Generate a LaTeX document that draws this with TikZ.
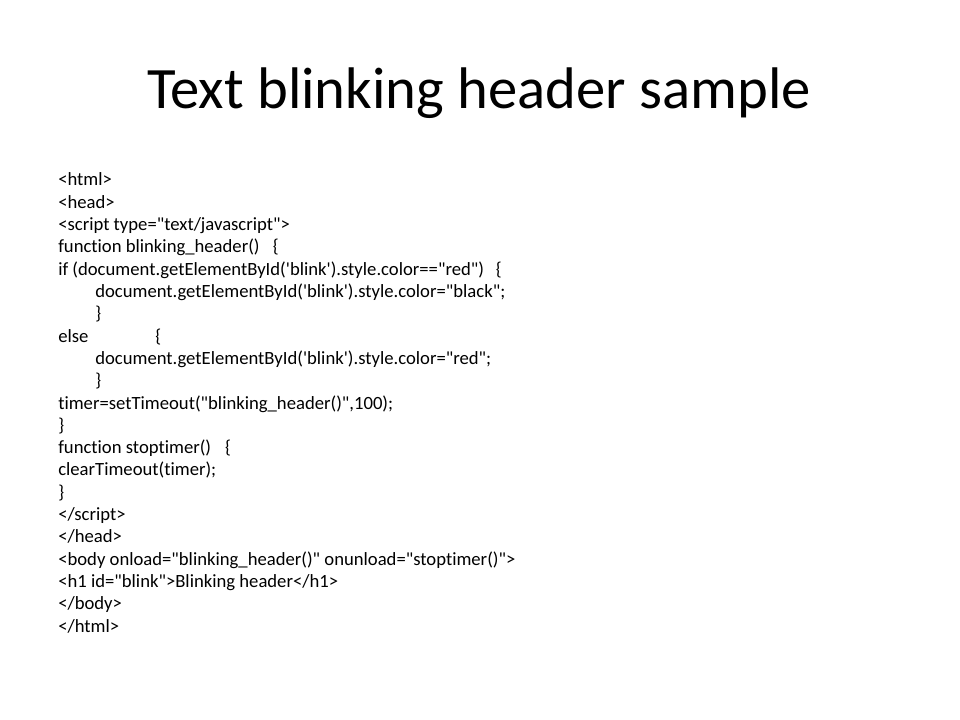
\documentclass[tikz,border=0pt]{standalone}
\usepackage{fontspec}
\newfontfamily\slidefont{Carlito}
\newfontfamily\codefont{Carlito}[Ligatures=NoCommon]
\tikzset{
  codeline/.style={anchor=base west, inner sep=0pt, font=\codefont\fontsize{14}{16}\selectfont},
  slidetitle/.style={anchor=base, inner sep=0pt, font=\slidefont\fontsize{44}{50}\selectfont}
}
\begin{document}
\begin{tikzpicture}[x=0.75pt, y=-0.75pt]
\useasboundingbox (0,0) rectangle (960,720);
\node[slidetitle] (title) at (479,109) {Text blinking header sample};
\node[codeline] (html) at (58,186) {<html>};
\node[codeline] (head) at (58,208.3) {<head>};
\node[codeline] (script) at (58,230.6) {<script type="text/javascript">};
\node[codeline] (fblink) at (58,252.9) {function blinking\_header()\hspace{10pt}\{};
\node[codeline] (iftest) at (58,275.2) {if (document.getElementById('blink').style.color=="red")\hspace{9pt}\{};
\node[codeline] (setblack) at (95,297.5) {document.getElementById('blink').style.color="black";};
\node[codeline] (closeif) at (95,319.8) {\}};
\node[codeline] (else) at (58,342.1) {else};
\node[codeline] (openelse) at (155,342.1) {\{};
\node[codeline] (setred) at (95,364.4) {document.getElementById('blink').style.color="red";};
\node[codeline] (closeelse) at (95,386.7) {\}};
\node[codeline] (timer) at (58,409) {timer=setTimeout("blinking\_header()",100);};
\node[codeline] (closeblink) at (58,431.3) {\}};
\node[codeline] (fstop) at (58,453.6) {function stoptimer()\hspace{10.5pt}\{};
\node[codeline] (clear) at (58,475.9) {clearTimeout(timer);};
\node[codeline] (closestop) at (58,498.2) {\}};
\node[codeline] (endscript) at (58,520.5) {</script>};
\node[codeline] (endhead) at (58,542.8) {</head>};
\node[codeline] (body) at (58,565.1) {<body onload="blinking\_header()" onunload="stoptimer()">};
\node[codeline] (hone) at (58,587.4) {<h1 id="blink">Blinking header</h1>};
\node[codeline] (endbody) at (58,609.7) {</body>};
\node[codeline] (endhtml) at (58,632) {</html>};
\end{tikzpicture}
\end{document}
